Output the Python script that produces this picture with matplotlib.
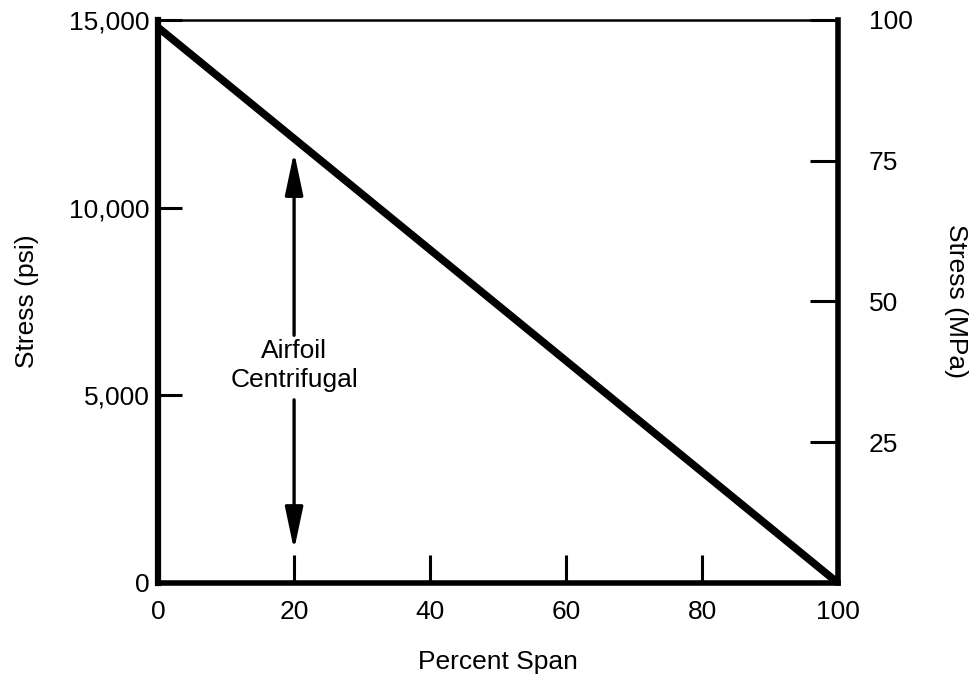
import matplotlib
matplotlib.use("Agg")
import matplotlib.pyplot as plt

# data
span_pct = [0, 100]
stress_psi = [14800, 0]
arrow_x = 20
arrow_top = 11480
arrow_bottom = 880
shaft_top_end = 6600
shaft_bottom_start = 4880
label_y = 5800

x_ticks = [0, 20, 40, 60, 80, 100]
psi_ticks = [0, 5000, 10000, 15000]
psi_labels = ["0", "5,000", "10,000", "15,000"]
mpa_ticks = [25, 50, 75, 100]
mpa_labels = ["25", "50", "75", "100"]

plt.rcParams["font.family"] = ["Liberation Sans", "DejaVu Sans"]
FS = 19

fig = plt.figure(figsize=(9.76, 6.75), dpi=100)
ax = fig.add_axes([0.162, 0.1363, 0.6966, 0.8341])

ax.plot(span_pct, stress_psi, color="black", lw=5.5, solid_capstyle="butt")

ax.set_xlim(0, 100)
ax.set_ylim(0, 15000)

ax.set_xticks(x_ticks)
ax.set_xticklabels([str(v) for v in x_ticks], fontsize=FS)
ax.set_yticks(psi_ticks)
ax.set_yticklabels(psi_labels, fontsize=FS)
ax.tick_params(axis="x", direction="in", length=20, width=2.2, pad=12)
ax.tick_params(axis="y", direction="in", length=17, width=2.2, pad=6)

for side, w in [("left", 4.5), ("bottom", 4), ("right", 4), ("top", 1.8)]:
    ax.spines[side].set_linewidth(w)

ax.set_xlabel("Percent Span", fontsize=FS, labelpad=19)
ax.set_ylabel("Stress (psi)", fontsize=FS, labelpad=22)

ax2 = ax.twinx()
ax2.set_ylim(0, 100)
ax2.set_yticks(mpa_ticks)
ax2.set_yticklabels(mpa_labels, fontsize=FS)
ax2.tick_params(axis="y", direction="in", length=20, width=2.2, pad=22)
for side in ["left", "bottom", "right", "top"]:
    ax2.spines[side].set_visible(False)
ax2.set_ylabel("Stress (MPa)", fontsize=FS, rotation=270, labelpad=40)

# double arrow with label in the middle
head = "-|>,head_length=2.6,head_width=0.55"
ax.annotate("", xy=(arrow_x, arrow_top), xytext=(arrow_x, shaft_top_end),
            arrowprops=dict(arrowstyle=head, color="black", lw=2.4,
                            mutation_scale=10, shrinkA=0, shrinkB=0))
ax.annotate("", xy=(arrow_x, arrow_bottom), xytext=(arrow_x, shaft_bottom_start),
            arrowprops=dict(arrowstyle=head, color="black", lw=2.4,
                            mutation_scale=10, shrinkA=0, shrinkB=0))
ax.text(arrow_x, label_y, "Airfoil\nCentrifugal", ha="center", va="center",
        fontsize=FS, linespacing=1.25)

fig.savefig("out.png", dpi=100)
